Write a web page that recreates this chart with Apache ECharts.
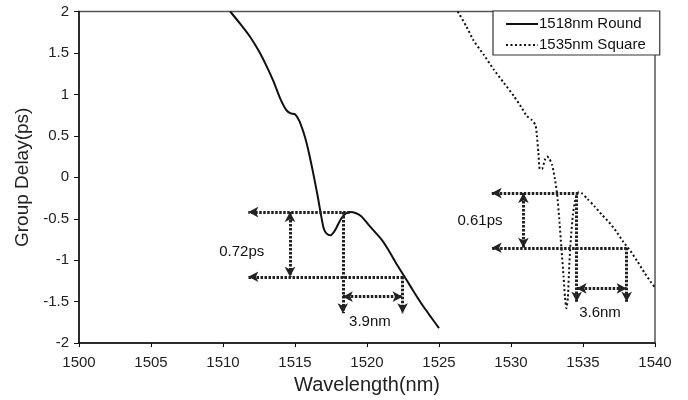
<!DOCTYPE html>
<html>
<head>
    <meta charset="utf-8"/>
    <title>Group Delay</title>
    <style>
        html, body { margin: 0; padding: 0; background: #fff; }
        #chart { width: 688px; height: 400px; }
    </style>
</head>
<body>
<div id="chart"></div>
<script src="https://cdn.jsdelivr.net/npm/echarts@6/dist/echarts.min.js"></script>
<script type="text/javascript">
    // group delay curves, [wavelength nm, delay ps]
    var roundData = [[1510.5, 2.0], [1511.2, 1.85], [1511.9, 1.69], [1512.5, 1.52], [1513.0, 1.35], [1513.5, 1.16],
        [1514.0, 0.94], [1514.4, 0.81], [1514.7, 0.77], [1515.0, 0.76], [1515.3, 0.68], [1515.7, 0.48], [1516.0, 0.27],
        [1516.3, 0.02], [1516.6, -0.25], [1516.8, -0.45], [1517.0, -0.62], [1517.2, -0.68], [1517.45, -0.70],
        [1517.7, -0.66], [1517.9, -0.60], [1518.2, -0.50], [1518.5, -0.44], [1518.8, -0.42], [1519.2, -0.43],
        [1519.6, -0.47], [1520.0, -0.55], [1520.5, -0.65], [1521.0, -0.75], [1521.5, -0.88], [1522.0, -1.03],
        [1522.5, -1.17], [1523.0, -1.31], [1523.5, -1.45], [1524.0, -1.58], [1524.5, -1.70], [1525.0, -1.82]];
    var squareData = [[1526.3, 2.0], [1526.9, 1.82], [1527.4, 1.65], [1528.1, 1.48], [1528.8, 1.30], [1529.5, 1.14],
        [1530.2, 0.98], [1530.7, 0.85], [1531.1, 0.74], [1531.45, 0.69], [1531.7, 0.63], [1531.8, 0.50],
        [1531.9, 0.30], [1532.0, 0.10], [1532.15, 0.10], [1532.35, 0.21], [1532.5, 0.25], [1532.65, 0.23],
        [1532.85, 0.15], [1533.05, -0.02], [1533.2, -0.20], [1533.35, -0.50], [1533.5, -0.85], [1533.65, -1.20],
        [1533.75, -1.45], [1533.85, -1.58], [1533.95, -1.45], [1534.05, -1.05], [1534.15, -0.75], [1534.3, -0.45],
        [1534.45, -0.28], [1534.6, -0.20], [1534.7, -0.18], [1534.9, -0.19], [1535.3, -0.26], [1535.8, -0.35],
        [1536.3, -0.45], [1536.8, -0.54], [1537.3, -0.65], [1537.8, -0.78], [1538.3, -0.89], [1538.8, -1.02],
        [1539.3, -1.16], [1539.7, -1.26], [1540.0, -1.33]];

    // annotation arrows [x1, y1, x2, y2]; arrow head at the second point
    var singleArrows = [
        [1518.8, -0.42, 1511.76, -0.42], [1522.5, -1.2, 1511.76, -1.2],
        [1518.32, -0.42, 1518.32, -1.64], [1522.47, -1.2, 1522.47, -1.64],
        [1534.67, -0.19, 1528.66, -0.19], [1538.03, -0.85, 1528.66, -0.85],
        [1534.56, -0.22, 1534.56, -1.5], [1538.03, -0.85, 1538.03, -1.5]
    ];
    // arrows with heads at both ends
    var doubleArrows = [
        [1514.65, -0.42, 1514.65, -1.2], [1518.32, -1.44, 1522.47, -1.44],
        [1530.86, -0.19, 1530.86, -0.85], [1534.56, -1.34, 1538.03, -1.34]
    ];
    var noteLabels = [[1511.3, -0.9, '0.72ps'], [1520.2, -1.74, '3.9nm'], [1527.85, -0.52, '0.61ps'], [1536.18, -1.64, '3.6nm']];

    var seriesNames = ['1518nm Round', '1535nm Square'];

    var arrowLines = [];
    singleArrows.forEach(function (a) {
        arrowLines.push([{coord: [a[0], a[1]], symbol: 'none'}, {coord: [a[2], a[3]], symbol: 'arrow'}]);
    });
    doubleArrows.forEach(function (a) {
        arrowLines.push([{coord: [a[0], a[1]], symbol: 'arrow'}, {coord: [a[2], a[3]], symbol: 'arrow'}]);
    });

    var font = 'Liberation Sans, Arial, sans-serif';
    var option = {
        animation: false,
        textStyle: {fontFamily: font},
        grid: {
            left: 79, right: 33, top: 11.5, bottom: 55,
            show: true, borderColor: '#555', borderWidth: 1.5
        },
        legend: {
            data: seriesNames,
            orient: 'vertical',
            left: 493, top: 11,
            padding: [5, 14, 2, 12],
            itemGap: 5,
            itemWidth: 32,
            itemHeight: 12,
            backgroundColor: '#fff',
            borderColor: '#333',
            borderWidth: 1.2,
            borderRadius: 0,
            itemStyle: {color: 'transparent', borderColor: 'transparent', borderWidth: 0, opacity: 0},
            textStyle: {fontSize: 15, color: '#111', lineHeight: 16, padding: [0, 0, 0, -4], fontFamily: font}
        },
        xAxis: {
            type: 'value', min: 1500, max: 1540, interval: 5,
            name: 'Wavelength(nm)', nameLocation: 'middle', nameGap: 30,
            nameTextStyle: {fontSize: 20, color: '#222', fontFamily: font},
            axisLine: {onZero: false, lineStyle: {color: '#111', width: 1.5}},
            axisTick: {length: 4, lineStyle: {color: '#111'}},
            axisLabel: {fontSize: 15, color: '#222', margin: 12, formatter: function (v) { return String(v); }},
            splitLine: {show: false}
        },
        yAxis: {
            type: 'value', min: -2, max: 2, interval: 0.5,
            name: 'Group Delay(ps)', nameLocation: 'middle', nameGap: 45,
            nameTextStyle: {fontSize: 19, color: '#222', fontFamily: font},
            axisLine: {show: true, onZero: false, lineStyle: {color: '#111', width: 1.5}},
            axisTick: {show: true, length: 5, lineStyle: {color: '#111'}},
            axisLabel: {fontSize: 15, color: '#222', margin: 10},
            splitLine: {show: false}
        },
        series: [
            {
                name: seriesNames[0], type: 'line', data: roundData,
                showSymbol: false, symbol: 'none', smooth: 0.2,
                lineStyle: {color: '#111', width: 2, type: 'solid'},
                itemStyle: {color: '#111'},
                z: 3
            },
            {
                name: seriesNames[1], type: 'line', data: squareData,
                showSymbol: false, symbol: 'none', smooth: 0.2,
                lineStyle: {color: '#111', width: 2, type: [2, 2.5]},
                itemStyle: {color: '#111'},
                z: 3
            },
            {
                name: 'arrows', type: 'line', data: [],
                markLine: {
                    silent: true,
                    animation: false,
                    symbolSize: [8, 10],
                    label: {show: false},
                    lineStyle: {color: '#222', width: 3, type: [2.5, 1.5]},
                    emphasis: {disabled: true},
                    data: arrowLines
                }
            },
            {
                name: 'notes', type: 'scatter', data: noteLabels,
                symbolSize: 1, itemStyle: {color: 'transparent', opacity: 1}, silent: true,
                label: {
                    show: true, position: 'inside', fontSize: 15, color: '#111', opacity: 1,
                    formatter: function (p) { return p.data[2]; }
                }
            }
        ]
    };

    var chart = echarts.init(document.getElementById('chart'));
    chart.setOption(option);
</script>
</body>
</html>
